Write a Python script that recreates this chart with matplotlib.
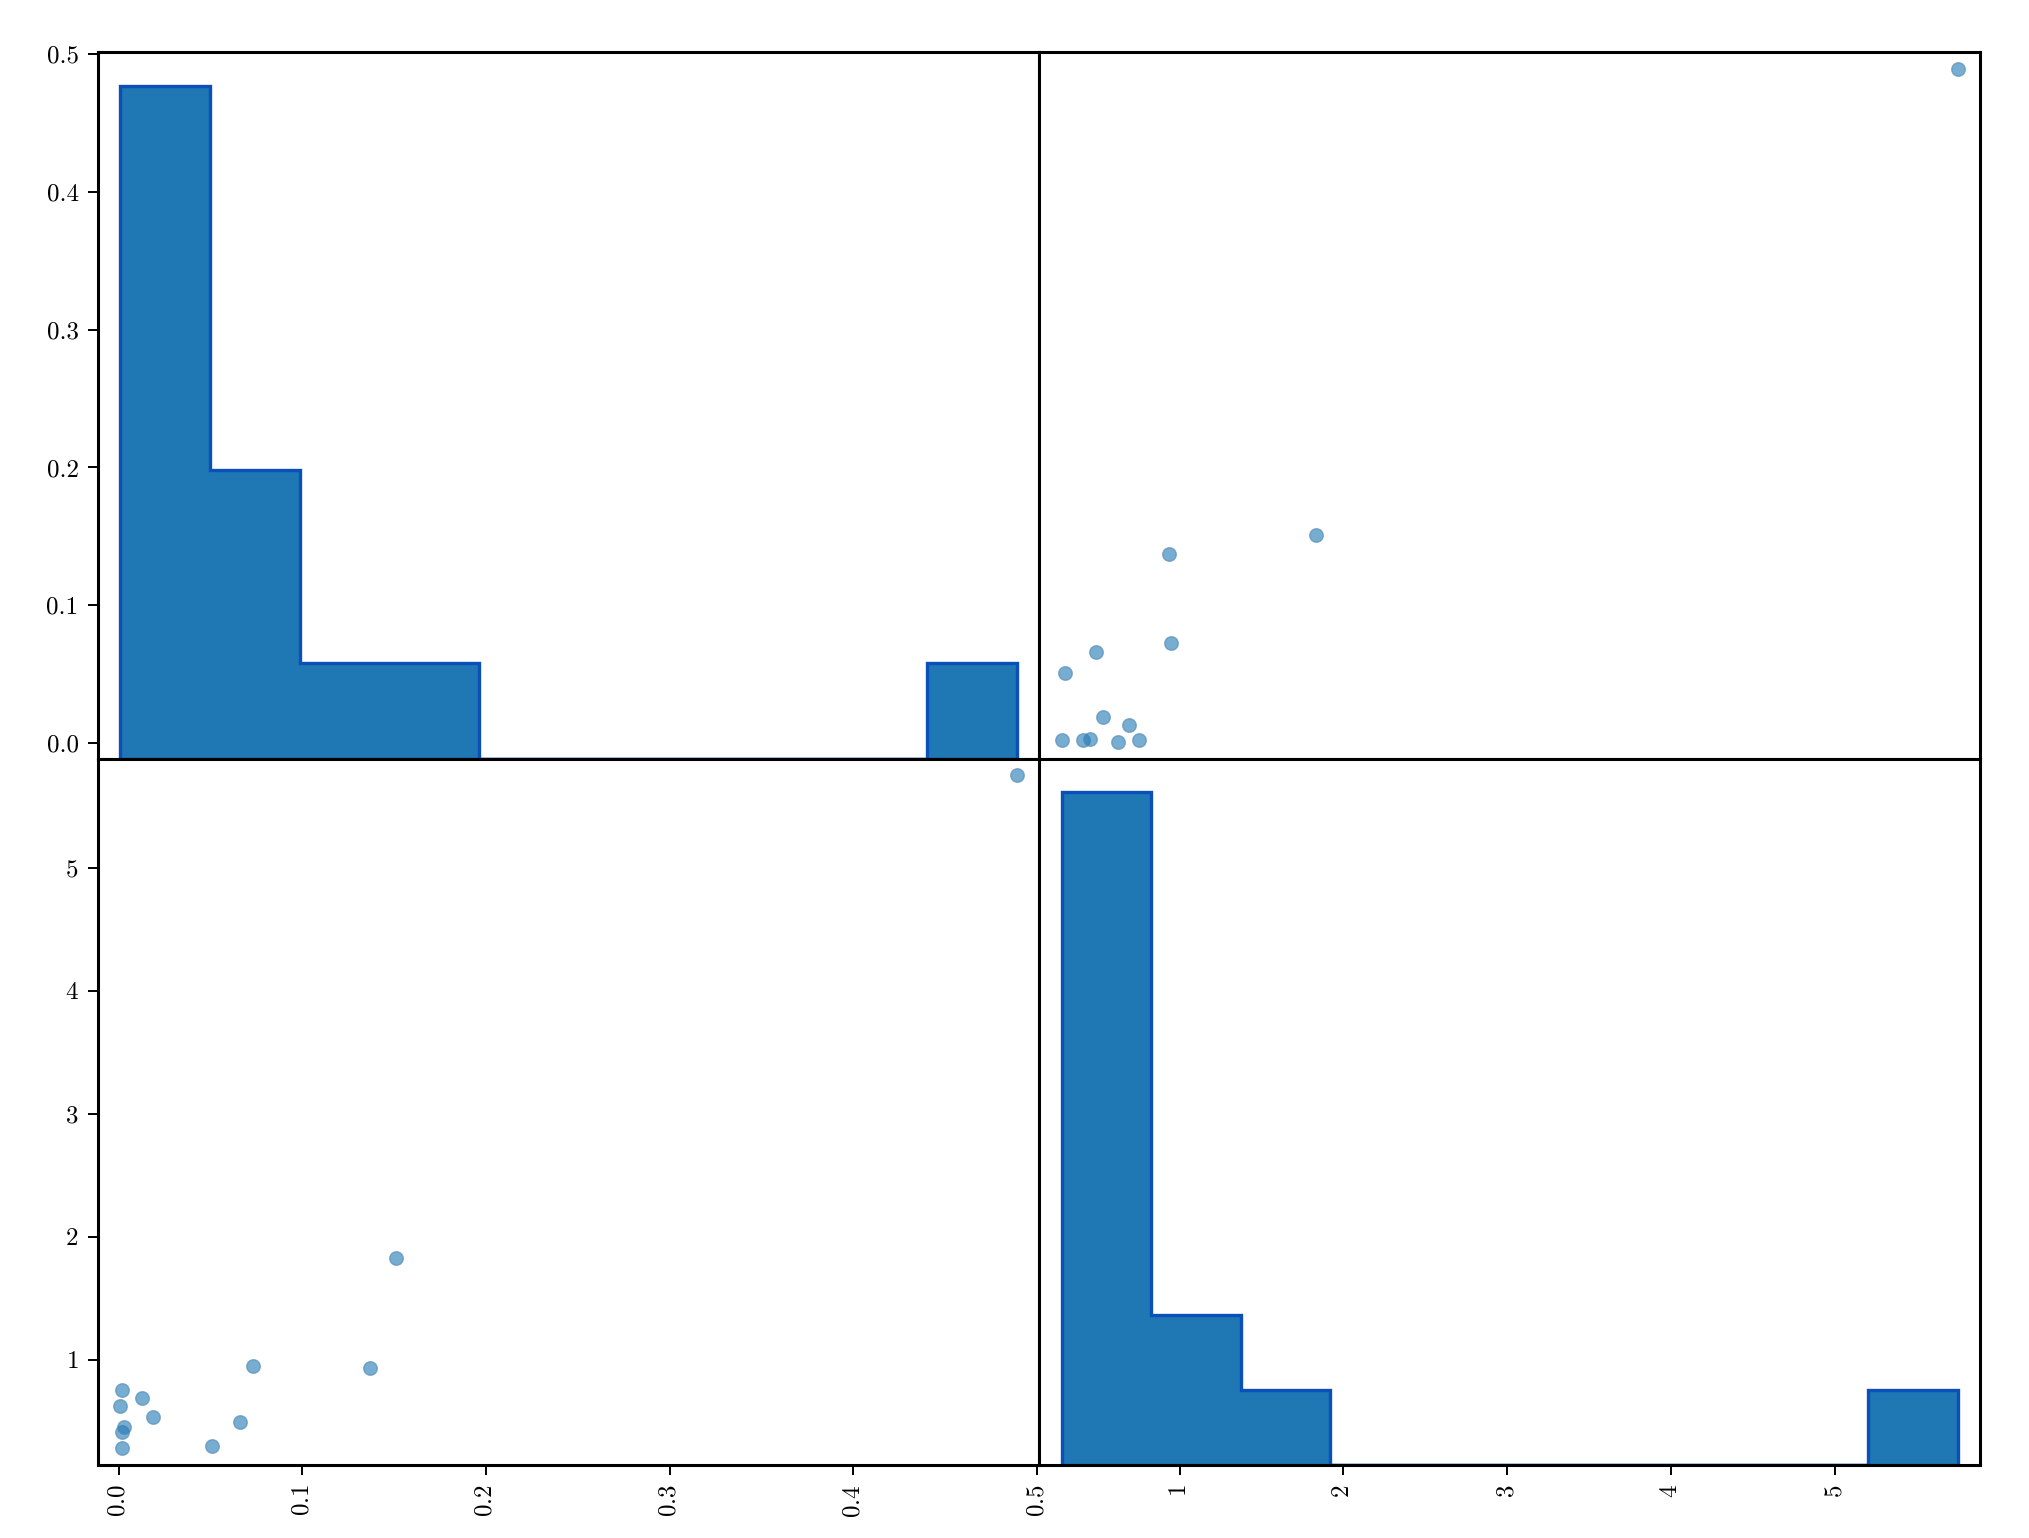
import numpy as np
import pandas as pd
import matplotlib
matplotlib.use("Agg")
import matplotlib.pyplot as plt
from pandas.plotting import scatter_matrix

plt.rcParams['font.family'] = ['cmr10', 'DejaVu Serif']
plt.rcParams['axes.formatter.use_mathtext'] = True
plt.rcParams['axes.linewidth'] = 1.1
plt.rcParams['xtick.major.width'] = 0.7
plt.rcParams['ytick.major.width'] = 0.7

var_a = [0.002, 0.002, 0.003, 0.001, 0.002, 0.013, 0.019,
         0.051, 0.066, 0.073, 0.137, 0.151, 0.489]
var_b = [0.28, 0.41, 0.455, 0.625, 0.755, 0.69, 0.53,
         0.30, 0.49, 0.95, 0.935, 1.83, 5.75]

df = pd.DataFrame({'a': var_a, 'b': var_b})

axes = scatter_matrix(
    df, figsize=(10.145, 7.69), diagonal='hist',
    marker='o', s=24, alpha=0.6, color='#1f77b4',
    edgecolors='#4f86b0', linewidths=0.5,
    hist_kwds={'bins': 10, 'histtype': 'stepfilled', 'color': '#1f77b4',
               'edgecolor': '#0b4fb8', 'linewidth': 1.2})

fig = plt.gcf()

# tidy the relabelled ticks of the first diagonal panel
ax0 = axes[0][0]
locs = ax0.get_yticks()
labels = [t.get_text() for t in ax0.get_yticklabels()]
ax0.set_yticks(locs)
ax0.set_yticklabels(['%.1f' % float(s) for s in labels])

for ax in axes.flat:
    ax.set_xlabel('')
    ax.set_ylabel('')
    plt.setp(ax.get_xticklabels(), fontsize=9)
    plt.setp(ax.get_yticklabels(), fontsize=9)

fig.subplots_adjust(left=0.0483, right=0.976, top=0.966, bottom=0.0475,
                    wspace=0, hspace=0)
fig.savefig('out.png', dpi=200)
